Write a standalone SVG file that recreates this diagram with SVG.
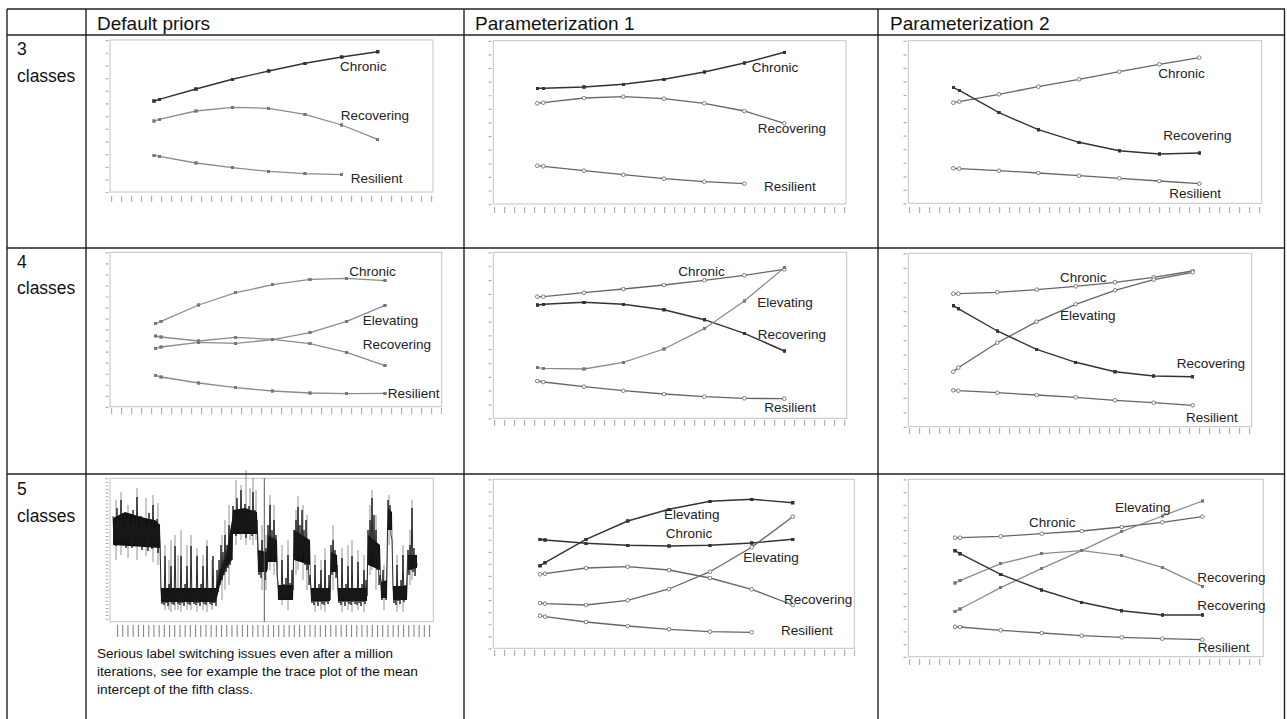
<svg xmlns="http://www.w3.org/2000/svg" width="1287" height="719" viewBox="0 0 1287 719">
<defs>
<marker id="sq" viewBox="0 0 4 4" refX="2" refY="2" markerWidth="3.6" markerHeight="3.6" markerUnits="userSpaceOnUse"><rect width="4" height="4" fill="#333"/></marker>
<marker id="ring" viewBox="0 0 6 6" refX="3" refY="3" markerWidth="5" markerHeight="5" markerUnits="userSpaceOnUse"><circle cx="3" cy="3" r="2.2" fill="#fff" stroke="#666" stroke-width="1"/></marker>
<marker id="gsq" viewBox="0 0 4 4" refX="2" refY="2" markerWidth="3.4" markerHeight="3.4" markerUnits="userSpaceOnUse"><rect width="4" height="4" fill="#777"/></marker>
</defs>
<style>
.grid line{stroke:#222;stroke-width:1.4}
.hd{font-family:"Liberation Sans",Arial,sans-serif;font-size:19px;fill:#111}
.rl{font-family:"Liberation Sans",Arial,sans-serif;font-size:17.5px;fill:#111}
.lb{font-family:"Liberation Sans",Arial,sans-serif;font-size:13.5px;fill:#222}
.note{font-family:"Liberation Sans",Arial,sans-serif;font-size:12px;fill:#111}
.box{fill:#fff;stroke:#c4c4c4;stroke-width:1}
.yt{fill:none;stroke:#b0b0b0;stroke-width:3}
.xt{fill:none;stroke:#b0b0b0;stroke-width:6;stroke-dasharray:1.2 8.8}
.dk{fill:none;stroke:#333;stroke-width:1.4;marker-start:url(#sq);marker-mid:url(#sq);marker-end:url(#sq)}
.md{fill:none;stroke:#666;stroke-width:1.3;marker-start:url(#ring);marker-mid:url(#ring);marker-end:url(#ring)}
.lt{fill:none;stroke:#8c8c8c;stroke-width:1.3;marker-start:url(#gsq);marker-mid:url(#gsq);marker-end:url(#gsq)}
</style>
<rect width="1287" height="719" fill="#fff"/>

<g id="headers">
<text class="hd" x="97" y="30">Default priors</text>
<text class="hd" x="475" y="30">Parameterization 1</text>
<text class="hd" x="890" y="30">Parameterization 2</text>
</g>
<g id="row-labels">
<text class="rl" x="17" y="55">3</text>
<text class="rl" x="17" y="81.5">classes</text>
<text class="rl" x="17" y="267.5">4</text>
<text class="rl" x="17" y="294">classes</text>
<text class="rl" x="17" y="495">5</text>
<text class="rl" x="17" y="521.5">classes</text>
</g>

<g id="chart-3-default">
<rect class="box" x="110" y="40" width="323" height="152"/>
<path class="yt" d="M107,40V193" stroke-dasharray="1.2 11.47"/>
<path class="xt" d="M111,199H434"/>
<polyline class="dk" points="154,101 159.3,99.3 196,89 232.3,79.3 268.7,71 305,63.3 341.7,57 377.7,51.7"/>
<polyline class="lt" points="154,121 159.3,119.3 196,111 232.3,107.3 268.7,108.3 305,114.3 341.7,125 377.7,139.3"/>
<polyline class="lt" points="154,155.3 159.3,156.3 196,163 232.3,167.7 268.7,171.3 305,173.7 341.7,174.7"/>
<text class="lb" x="340" y="71">Chronic</text>
<text class="lb" x="340.7" y="120">Recovering</text>
<text class="lb" x="350.7" y="183">Resilient</text>
</g>

<g id="chart-3-param1">
<rect class="box" x="493.3" y="40.7" width="352.7" height="163.3"/>
<path class="yt" d="M490,40.7V205" stroke-dasharray="1.2 12.41"/>
<path class="xt" d="M494,210H846"/>
<polyline class="dk" points="537.3,88.3 543.3,88.3 584,87 623.3,84.3 664,79.3 704.3,72 744.3,63 784.3,52.3"/>
<polyline class="md" points="537.3,103.3 543.3,102.7 584,98 623.3,96.7 664,98.7 704.3,103.3 744.3,111 784.3,123.3"/>
<polyline class="md" points="537.3,165.7 543.3,166.3 584,170.7 623.3,174.7 664,178.7 704.3,181.7 744.3,183.7"/>
<text class="lb" x="751.7" y="71.7">Chronic</text>
<text class="lb" x="757.7" y="133.3">Recovering</text>
<text class="lb" x="764" y="191">Resilient</text>
</g>

<g id="chart-3-param2">
<rect class="box" x="908.3" y="40.7" width="353.4" height="162.6"/>
<path class="yt" d="M905,40.7V205" stroke-dasharray="1.2 12.35"/>
<path class="xt" d="M909,210H1261"/>
<polyline class="md" points="953.3,102.7 959.3,101.7 999,94.3 1038.3,86.7 1079,79.3 1119.3,71.7 1159.3,64.3 1199.3,57.7"/>
<polyline class="dk" points="953.3,87.7 959.3,90.3 999,112.7 1038.3,129.7 1079,142.3 1119.3,150.7 1159.3,154 1199.3,153"/>
<polyline class="md" points="953.3,168.3 959.3,168.7 999,170.7 1038.3,173 1079,175.7 1119.3,178.3 1159.3,181 1199.3,183.7"/>
<text class="lb" x="1158.3" y="78.3">Chronic</text>
<text class="lb" x="1163.3" y="140">Recovering</text>
<text class="lb" x="1169.3" y="198.3">Resilient</text>
</g>

<g id="chart-4-default">
<rect class="box" x="110" y="252.3" width="331.7" height="154.4"/>
<path class="yt" d="M107,252.3V408" stroke-dasharray="1.2 9.83"/>
<path class="xt" d="M111,411H442"/>
<polyline class="lt" points="155.7,323.7 161,321.3 198.7,305 235.7,292.7 272.7,284.7 310,279.3 346.7,278.3 385,280.7"/>
<polyline class="lt" points="155.7,348.7 161,347 198.7,342.3 235.7,343.3 272.7,339.7 310,332.7 346.7,321.3 385,305.3"/>
<polyline class="lt" points="155.7,336 161,337 198.7,341 235.7,337.3 272.7,339.3 310,343.7 346.7,352.3 385,365.7"/>
<polyline class="lt" points="155.7,375.3 161,377 198.7,383 235.7,387.7 272.7,391 310,393 346.7,393.7 385,393.3"/>
<text class="lb" x="349.3" y="276">Chronic</text>
<text class="lb" x="362.7" y="325">Elevating</text>
<text class="lb" x="362.7" y="349">Recovering</text>
<text class="lb" x="387.7" y="398.3">Resilient</text>
</g>

<g id="chart-4-param1">
<rect class="box" x="493.3" y="252.3" width="353.4" height="166"/>
<path class="yt" d="M490,252.3V420" stroke-dasharray="1.2 12.63"/>
<path class="xt" d="M494,423H847"/>
<polyline class="md" points="537.3,296.7 543.3,296.7 584,292.7 623.3,289 664,285 704.3,280.3 744.3,275.3 784.3,269.3"/>
<polyline class="dk" points="537.3,305 543.3,304.3 584,302.3 623.3,304.3 664,309.7 704.3,319.7 744.3,333.3 784.3,351"/>
<polyline class="lt" points="537.3,367.7 543.3,368.3 584,369 623.3,362.3 664,349 704.3,328.7 744.3,301 784.3,267.7"/>
<polyline class="md" points="537.3,381 543.3,382 584,386.7 623.3,390.7 664,394 704.3,396.7 744.3,398.3 784.3,398.7"/>
<text class="lb" x="678.3" y="276">Chronic</text>
<text class="lb" x="757.3" y="306.7">Elevating</text>
<text class="lb" x="757.7" y="339">Recovering</text>
<text class="lb" x="764.3" y="411.7">Resilient</text>
</g>

<g id="chart-4-param2">
<rect class="box" x="908.3" y="253.3" width="343.4" height="173.4"/>
<path class="yt" d="M905,253.3V428" stroke-dasharray="1.2 13.25"/>
<path class="xt" d="M909,431H1252"/>
<polyline class="md" points="953.3,293.7 958.3,293.7 997.3,292.3 1036.7,289.7 1075.7,286.3 1115,282.3 1153.7,277.3 1192.7,271"/>
<polyline class="md" points="953.3,371.7 958.3,367.7 997.3,342.7 1036.7,321.7 1075.7,304.3 1115,290.3 1153.7,279.7 1192.7,272.3"/>
<polyline class="dk" points="953.3,305.7 958.3,308.7 997.3,331 1036.7,349.3 1075.7,362.3 1115,371.7 1153.7,376 1192.7,376.7"/>
<polyline class="md" points="953.3,390.3 958.3,390.7 997.3,392.7 1036.7,395 1075.7,397.3 1115,400.3 1153.7,402.7 1192.7,405.3"/>
<text class="lb" x="1060" y="281.7">Chronic</text>
<text class="lb" x="1060" y="320">Elevating</text>
<text class="lb" x="1176.7" y="368.3">Recovering</text>
<text class="lb" x="1186" y="421.7">Resilient</text>
</g>

<g id="chart-5-default">
<rect class="box" x="110" y="478.3" width="323.3" height="143.4"/>
<path class="yt" d="M107,478.3V622" stroke-dasharray="1 2.6"/>
<path d="M117,631H431" fill="none" stroke="#888" stroke-width="12" stroke-dasharray="1.1 4.1"/>
<path fill="none" stroke="#777" stroke-width="0.8" d="M116,500V560M121,492V555M128,505V558M137,488V560M146,498V556M153,495V562M158,503V565M165,545V610M169,560V610M171,540V612M175,535V610M178,555V610M181,530V612M187,545V610M191,535V610M197,548V612M203,555V610M207,540V612M212,560V610M222,535V600M225,520V590M229,505V585M236,480V545M241,485V540M246,470V545M250,488V540M253,478V545M256,490V540M262,525V590M266,535V590M270,495V570M274,505V575M282,545V605M288,540V610M296,510V575M298,496V570M303,505V580M307,515V590M315,555V612M321,560V610M325,548V612M333,525V590M342,548V612M348,545V610M352,540V612M358,550V610M364,555V612M370,505V575M372,490V570M376,515V590M384,565V610M389,495V545M397,555V612M403,545V612M410,530V585M412,500V580"/>
<polygon fill="#111" points="113,518 125,512 135,515 145,518 155,520 160,525 161,588 216,588 220,570 226,555 232,520 233,510 245,508 257,512 258,550 267,552 268,535 277,540 278,585 293,585 294,530 310,540 311,588 330,588 331,552 337,555 338,588 367,588 368,535 380,545 381,582 387,580 388,508 392,512 393,586 407,586 408,555 417,555 417,568 408,570 407,600 393,600 392,530 388,530 387,598 381,598 380,570 368,565 367,601 338,601 337,572 331,572 330,601 311,601 310,565 294,560 293,600 278,600 277,562 268,562 267,572 258,572 257,534 233,534 232,560 226,568 220,585 216,602 161,602 160,548 113,545"/>
<polyline fill="none" stroke="#1a1a1a" stroke-width="0.9" points="113,516 114,542 115,522 116,546 117,508 118,540 119,520 120,544 121,500 122,542 123,524 124,540 125,514 126,548 127,519 128,537 129,518 130,544 131,524 132,548 133,510 134,542 135,522 136,546 137,497 138,544 139,526 140,542 141,516 142,550 143,521 144,539 145,521 146,547 147,527 148,551 149,513 150,545 151,525 152,549 153,505 154,547 155,529 156,545 157,519 158,553 159,524 160,545 161,588 162,604 163,591 164,605 165,556 166,603 167,590 168,606 169,584 170,602 171,566 172,604 173,589 174,605 175,546 176,602 177,588 178,604 179,591 180,605 181,556 182,603 183,590 184,606 185,584 186,602 187,566 188,604 189,589 190,605 191,546 192,602 193,588 194,604 195,591 196,605 197,556 198,603 199,590 200,606 201,584 202,602 203,566 204,604 205,589 206,605 207,546 208,602 209,588 210,604 211,591 212,605 213,556 214,603 215,590 216,606 217,570 218,592 219,560 220,585 221,545 222,580 223,552 224,575 225,535 226,572 227,545 228,568 229,525 230,565 231,530 232,560 233,506 234,532 235,512 236,536 237,498 238,530 239,510 240,534 241,490 242,532 243,514 244,530 245,504 246,538 247,509 248,527 249,506 250,532 251,512 252,536 253,492 254,530 255,510 256,534 257,520 258,545 259,575 260,552 261,578 262,540 263,572 264,555 265,580 266,548 267,570 268,525 269,560 270,505 271,555 272,530 273,562 274,520 275,558 276,535 277,575 278,582 279,600 280,585 281,598 282,560 283,597 284,584 285,600 286,578 287,596 288,555 289,598 290,583 291,599 292,570 293,590 294,530 295,560 296,520 297,558 298,507 299,555 300,525 301,560 302,510 303,552 304,530 305,565 306,520 307,570 308,540 309,585 310,575 311,588 312,603 313,590 314,605 315,565 316,602 317,589 318,606 319,584 320,602 321,570 322,604 323,589 324,605 325,560 326,602 327,588 328,604 329,575 330,600 331,545 332,575 333,540 334,572 335,550 336,578 337,565 338,588 339,603 340,590 341,605 342,558 343,602 344,589 345,606 346,584 347,602 348,566 349,604 350,589 351,605 352,556 353,602 354,588 355,604 356,591 357,605 358,562 359,603 360,590 361,606 362,584 363,602 364,570 365,604 366,580 367,596 368,530 369,565 370,520 371,560 372,498 373,555 374,515 375,565 376,530 377,570 378,545 379,585 380,575 381,580 382,600 383,570 384,598 385,582 386,600 387,560 388,500 389,530 390,505 391,535 392,540 393,585 394,603 395,588 396,605 397,565 398,601 399,587 400,604 401,580 402,600 403,555 404,602 405,585 406,600 407,575 408,550 409,575 410,545 411,570 412,508 413,572 414,548 415,576 416,555 417,566"/>
<line x1="264.3" y1="478.3" x2="264.3" y2="621.7" stroke="#555" stroke-width="1"/>
<text class="note" x="97" y="658" textLength="296" lengthAdjust="spacingAndGlyphs">Serious label switching issues even after a million</text>
<text class="note" x="97" y="676" textLength="321" lengthAdjust="spacingAndGlyphs">iterations, see for example the trace plot of the mean</text>
<text class="note" x="97" y="693.5" textLength="156" lengthAdjust="spacingAndGlyphs">intercept of the fifth class.</text>
</g>

<g id="chart-5-param1">
<rect class="box" x="493.3" y="479.3" width="361" height="169"/>
<path class="yt" d="M490,479.3V650" stroke-dasharray="1.2 10.87"/>
<path class="xt" d="M494,653H855"/>
<polyline class="dk" points="540,565.7 545,562.7 586,539.3 627.7,521 669,509.3 710,501.3 751.7,499.3 792.7,502.7"/>
<polyline class="dk" points="540,539.3 545,540 586,543.3 627.7,545.3 669,546 710,545.3 751.7,543 792.7,539.3"/>
<polyline class="md" points="540,574.3 545,573.7 586,568 627.7,566.7 669,570 710,578 751.7,589.3 792.7,605"/>
<polyline class="md" points="540,603 545,603.7 586,605 627.7,600.3 669,589 710,571.7 751.7,547.3 792.7,516.7"/>
<polyline class="md" points="540,615.7 545,616.7 586,622 627.7,626 669,629.3 710,631.7 751.7,632.3"/>
<text class="lb" x="664" y="519.3">Elevating</text>
<text class="lb" x="665.7" y="538.3">Chronic</text>
<text class="lb" x="743.3" y="561.7">Elevating</text>
<text class="lb" x="784" y="604">Recovering</text>
<text class="lb" x="781" y="635">Resilient</text>
</g>

<g id="chart-5-param2">
<rect class="box" x="908.3" y="479.3" width="355" height="177.4"/>
<path class="yt" d="M905,479.3V658" stroke-dasharray="1.2 11.47"/>
<path class="xt" d="M909,662H1263"/>
<polyline class="md" points="955,537.7 960,537.7 1000.7,536.3 1041.7,533.7 1081.7,531 1121.7,527 1162.3,522.3 1202.3,516.7"/>
<polyline class="lt" points="955,611.3 960,609 1000.7,587.7 1041.7,568.3 1081.7,550.7 1121.7,531.7 1162.3,516 1202.3,501"/>
<polyline class="lt" points="955,583 960,580.7 1000.7,563.7 1041.7,553.7 1081.7,550.7 1121.7,555.7 1162.3,567.3 1202.3,586.3"/>
<polyline class="dk" points="955,550.7 960,553.7 1000.7,574.3 1041.7,590 1081.7,602.3 1121.7,610.7 1162.3,615 1202.3,615"/>
<polyline class="md" points="955,626.7 960,627 1000.7,630.3 1041.7,633 1081.7,635.7 1121.7,637.3 1162.3,638.7 1202.3,639.7"/>
<text class="lb" x="1115" y="511.7">Elevating</text>
<text class="lb" x="1029" y="526.7">Chronic</text>
<text class="lb" x="1197.3" y="581.7">Recovering</text>
<text class="lb" x="1197.3" y="610">Recovering</text>
<text class="lb" x="1197.7" y="651.7">Resilient</text>
</g>

<g id="connectors" class="grid">
<line x1="7" y1="9" x2="1285" y2="9"/>
<line x1="7" y1="35" x2="1285" y2="35"/>
<line x1="7" y1="248" x2="1285" y2="248"/>
<line x1="7" y1="474" x2="1285" y2="474"/>
<line x1="7" y1="9" x2="7" y2="719"/>
<line x1="86" y1="9" x2="86" y2="719"/>
<line x1="464" y1="9" x2="464" y2="719"/>
<line x1="878" y1="9" x2="878" y2="719"/>
<line x1="1284.5" y1="9" x2="1284.5" y2="719"/>
</g>
</svg>
